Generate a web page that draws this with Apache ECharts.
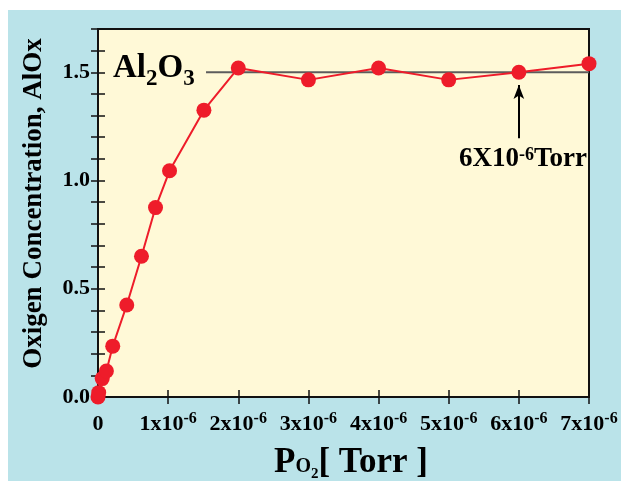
<!DOCTYPE html>
<html>
<head>
<meta charset="utf-8">
<script src="https://cdn.jsdelivr.net/npm/echarts@6/dist/echarts.min.js"></script>
<style>
html,body{margin:0;padding:0;background:#fff;width:621px;height:481px;overflow:hidden;}
#bg{position:absolute;left:8px;top:10px;width:613px;height:471px;background:#BAE3E9;}
#chart{position:absolute;left:0;top:0;width:621px;height:481px;}
</style>
</head>
<body>
<div id="bg"></div>
<div id="chart"></div>
<script>
// Pressure in units of 1e-6 Torr
const pressure = [0, 0.01, 0.06, 0.12, 0.21, 0.41, 0.62, 0.82, 1.02, 1.51, 2, 3, 4, 5, 6, 7];
const oxygen   = [0.0, 0.02, 0.085, 0.12, 0.235, 0.425, 0.65, 0.875, 1.045, 1.325, 1.52, 1.465, 1.52, 1.465, 1.50, 1.54];
// Al2O3 reference level
const refX = [1.54, 7];
const refY = 1.5;
// Arrow marking 6x10^-6 Torr
const arrowX = 6;
const arrowY = [1.195, 1.441];
const xTicks = [0, 1, 2, 3, 4, 5, 6, 7];
const yLabels = [0.0, 0.5, 1.0, 1.5];

const FF = '"Liberation Serif", "Times New Roman", serif';
const chart = echarts.init(document.getElementById('chart'), null, {renderer: 'canvas'});

const tickStyle = {show: true, inside: true, length: 7, lineStyle: {color: '#111', width: 1.5}};
const axisLineStyle = {show: true, lineStyle: {color: '#111', width: 2}};

const option = {
  backgroundColor: 'transparent',
  animation: false,
  grid: {left: 98, top: 29, right: 32, bottom: 84, show: true, backgroundColor: '#FFF9D7', borderColor: '#111', borderWidth: 2},
  xAxis: [{
    type: 'value', min: 0, max: 7, interval: 1, position: 'bottom',
    axisLine: axisLineStyle, axisTick: tickStyle, splitLine: {show: false},
    axisLabel: {
      margin: 14,
      formatter: v => {
        const n = Math.round(v);
        if (xTicks.indexOf(n) < 0) return '';
        return n === 0 ? '{m|0}' : '{m|' + n + 'x10}{s|-6}';
      },
      rich: {
        m: {fontSize: 22, fontWeight: 'bold', fontFamily: FF, color: '#000', lineHeight: 24, verticalAlign: 'bottom'},
        s: {fontSize: 16, fontWeight: 'bold', fontFamily: FF, color: '#000', lineHeight: 13, verticalAlign: 'top'}
      }
    }
  }, {
    type: 'value', min: 0, max: 7, interval: 1, position: 'top',
    axisLine: axisLineStyle, axisTick: tickStyle, splitLine: {show: false}, axisLabel: {show: false}
  }],
  yAxis: [{
    type: 'value', min: 0, max: 1.7, interval: 0.1, position: 'left',
    axisLine: axisLineStyle, axisTick: tickStyle, splitLine: {show: false},
    axisLabel: {
      margin: 8, fontSize: 22, fontWeight: 'bold', fontFamily: FF, color: '#000',
      formatter: v => {
        for (const l of yLabels) { if (Math.abs(v - l) < 1e-6) return l.toFixed(1); }
        return '';
      }
    }
  }, {
    type: 'value', min: 0, max: 1.7, interval: 0.1, position: 'right',
    axisLine: axisLineStyle, axisTick: tickStyle, splitLine: {show: false}, axisLabel: {show: false}
  }],
  series: [{
    type: 'line', name: 'ref', xAxisIndex: 0, yAxisIndex: 0,
    data: refX.map(x => [x, refY]),
    symbol: 'none', lineStyle: {color: '#5c5c5c', width: 2}, z: 1, silent: true,
    markLine: {
      silent: true, symbol: ['none', 'arrow'], symbolSize: [8, 14],
      label: {show: false},
      lineStyle: {color: '#000', width: 2, type: 'solid'},
      data: [[{coord: [arrowX, arrowY[0]]}, {coord: [arrowX, arrowY[1]]}]]
    }
  }, {
    type: 'line', name: 'AlOx', xAxisIndex: 0, yAxisIndex: 0,
    data: pressure.map((p, i) => [p, oxygen[i]]),
    symbol: 'circle', symbolSize: 15,
    itemStyle: {color: '#EE1C2A'},
    lineStyle: {color: '#EE1C2A', width: 2},
    z: 3
  }],
  graphic: [{
    type: 'text', x: 34, y: 203.5, rotation: Math.PI / 2,
    style: {text: 'Oxigen Concentration, AlOx', x: 0, y: 0, align: 'center', verticalAlign: 'middle',
            font: 'bold 27px ' + FF, fill: '#000'}
  }, {
    type: 'text', x: 351, y: 486,
    style: {
      text: '{p|P}{o|O}{s|2}{p|[ Torr ]}', x: 0, y: 0, align: 'center', verticalAlign: 'bottom',
      rich: {
        p: {fontSize: 35, fontWeight: 'bold', fontFamily: FF, fill: '#000', lineHeight: 35, verticalAlign: 'bottom', padding: [0, 0, 6, 0]},
        o: {fontSize: 20, fontWeight: 'bold', fontFamily: FF, fill: '#000', lineHeight: 20, verticalAlign: 'bottom', padding: [0, 0, 9, 0]},
        s: {fontSize: 15, fontWeight: 'bold', fontFamily: FF, fill: '#000', lineHeight: 15, verticalAlign: 'bottom', padding: [0, 0, 4, 0]}
      }
    }
  }, {
    type: 'text', x: 113, y: 93,
    style: {
      text: '{a|Al}{b|2}{a|O}{b|3}', x: 0, y: 0, align: 'left', verticalAlign: 'bottom',
      rich: {
        a: {fontSize: 33, fontWeight: 'bold', fontFamily: FF, fill: '#000', lineHeight: 33, verticalAlign: 'bottom', padding: [0, 0, 8, 0]},
        b: {fontSize: 23, fontWeight: 'bold', fontFamily: FF, fill: '#000', lineHeight: 23, verticalAlign: 'bottom', padding: [0, 0, 2, 0]}
      }
    }
  }, {
    type: 'text', x: 459, y: 173,
    style: {
      text: '{m|6X10}{s|-6}{m|Torr}', x: 0, y: 0, align: 'left', verticalAlign: 'bottom',
      rich: {
        m: {fontSize: 27, fontWeight: 'bold', fontFamily: FF, fill: '#000', lineHeight: 27, verticalAlign: 'bottom'},
        s: {fontSize: 18, fontWeight: 'bold', fontFamily: FF, fill: '#000', lineHeight: 18, verticalAlign: 'top'}
      }
    }
  }]
};
chart.setOption(option);
</script>
</body>
</html>
